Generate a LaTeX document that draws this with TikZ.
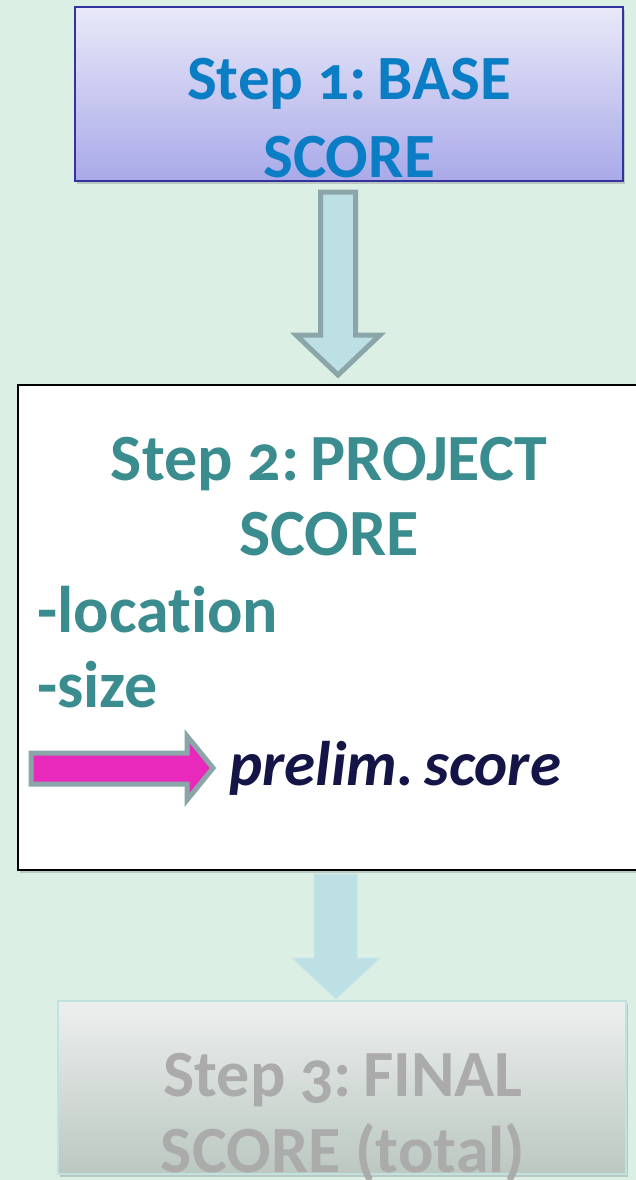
\documentclass[tikz,border=0pt]{standalone}
\usepackage{fontspec}
\setmainfont{Carlito}[Numbers=OldStyle, Ligatures=CommonOff]
\usetikzlibrary{shadows}
\definecolor{bg}{HTML}{DCEFE4}
\definecolor{boxonetop}{HTML}{E9E9F9}
\definecolor{boxonebot}{HTML}{A9A9E9}
\definecolor{boxoneline}{HTML}{3333A0}
\definecolor{textone}{HTML}{0A7DC4}
\definecolor{texttwo}{HTML}{3A8C8E}
\definecolor{textnavy}{HTML}{141446}
\definecolor{arrowfill}{HTML}{BCE0E4}
\definecolor{arrowline}{HTML}{8AA6A8}
\definecolor{pinkfill}{HTML}{E829BB}
\definecolor{boxthreetop}{HTML}{EDEFEF}
\definecolor{boxthreebot}{HTML}{BBC8C0}
\definecolor{boxthreeline}{HTML}{C2E2E2}
\definecolor{textthree}{HTML}{ABABAB}
\tikzset{
  bigtext/.style={font=\bfseries\fontsize{63}{70}\selectfont, inner sep=0pt, anchor=base},
  midtext/.style={font=\bfseries\fontsize{66}{70}\selectfont, inner sep=0pt, anchor=base},
  shade1/.style={drop shadow={shadow xshift=2pt, shadow yshift=-3pt, opacity=0.35}},
}
\begin{document}
\begin{tikzpicture}[x=1pt,y=-1pt]
\useasboundingbox (0,0) rectangle (636,1180);
\fill[bg] (0,0) rectangle (636,1180);
\begin{scope}
\clip (0,0) rectangle (636,1180);
% Box 1
\path[shade1, top color=boxonetop, bottom color=boxonebot, draw=boxoneline, line width=1.5pt] (75,7) rectangle (623,181);
\node[bigtext, text=textone] (t1a) at (349,100) {Step 1:\,BASE};
\node[bigtext, text=textone] (t1b) at (349,177) {SCORE};
% Arrow 1
\filldraw[fill=arrowfill, draw=arrowline, line width=5pt, line join=miter]
  (320.5,192) -- (355.5,192) -- (355.5,335) -- (380,335) -- (338,375) -- (296,335) -- (320.5,335) -- cycle;
% Box 2
\path[shade1, fill=white, draw=black, line width=1.8pt] (18,385) rectangle (645,870);
\node[midtext, text=texttwo] (t2a) at (329,480) {Step 2:\,PROJECT};
\node[midtext, text=texttwo] (t2b) at (329,555) {SCORE};
\node[midtext, text=texttwo, anchor=base west] (t2c) at (37,632) {-location};
\node[midtext, text=texttwo, anchor=base west] (t2d) at (37,707) {-size};
\filldraw[fill=pinkfill, draw=arrowline, line width=5pt, line join=miter]
  (31,753) -- (187,753) -- (187,736) -- (213,768) -- (187,800) -- (187,784) -- (31,784) -- cycle;
\node[bigtext, text=textnavy, anchor=base west, font=\bfseries\itshape\fontsize{63}{70}\selectfont] (t2e) at (229,785) {prelim.\,score};
% Arrow 2 (faded)
\filldraw[fill=arrowfill, draw=arrowfill!80!white, line width=1pt]
  (314,874) -- (357,874) -- (357,958) -- (380,958) -- (336,999) -- (292,958) -- (314,958) -- cycle;
% Box 3
\path[shade1, top color=boxthreetop, bottom color=boxthreebot, draw=boxthreeline, line width=1.2pt] (58,1001) rectangle (626,1174);
\node[midtext, text=textthree] (t3a) at (343,1096) {Step 3:\,FINAL};
\node[midtext, text=textthree] (t3b) at (343,1172) {SCORE (total)};
\end{scope}
\end{tikzpicture}
\end{document}
